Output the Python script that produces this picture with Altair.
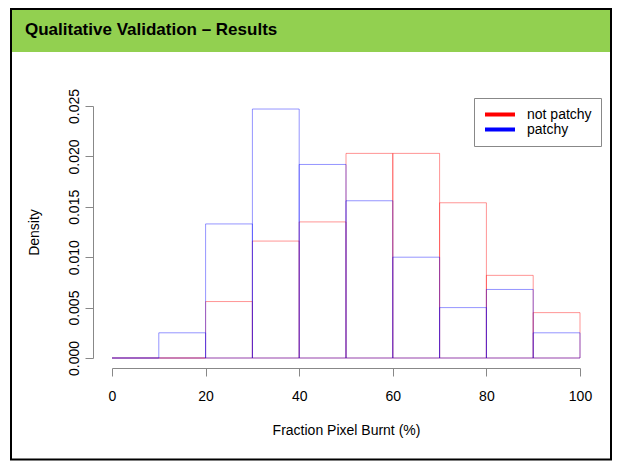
import altair as alt
import pandas as pd

# ---- data ----
bin_start = [0, 10, 20, 30, 40, 50, 60, 70, 80, 90]
bin_end = [10, 20, 30, 40, 50, 60, 70, 80, 90, 100]
not_patchy = [0.0, 0.0, 0.0056, 0.0116, 0.0135, 0.0203, 0.0203, 0.0154, 0.0082, 0.0045]
patchy = [0.0, 0.0025, 0.0133, 0.0247, 0.0192, 0.0156, 0.0100, 0.0050, 0.0068, 0.0025]
series_names = ["not patchy", "patchy"]
series_colors = ["#ff0000", "#0000ff"]
x_ticks = [0, 20, 40, 60, 80, 100]
y_ticks = [0.0, 0.005, 0.010, 0.015, 0.020, 0.025]
title_text = "Qualitative Validation \u2013 Results"
x_title = "Fraction Pixel Burnt (%)"
y_title = "Density"

rows = []
for name, vals in zip(series_names, [not_patchy, patchy]):
    for s, e, v in zip(bin_start, bin_end, vals):
        rows.append({"series": name, "start": s, "end": e, "density": v, "base": 0.0})
df = pd.DataFrame(rows)

FONT = "Liberation Sans"
W, H = 468, 252
PAD_L, PAD_T = 104, 98
TOTAL_W, TOTAL_H = 604, 453
PAD_R = TOTAL_W - PAD_L - W
PAD_B = TOTAL_H - PAD_T - H

hist = alt.Chart(df).mark_rect(fillOpacity=0, strokeWidth=1, strokeOpacity=0.42).encode(
    x=alt.X(
        "start:Q",
        scale=alt.Scale(domain=[0, 100], nice=False, zero=False),
        axis=alt.Axis(
            values=x_ticks, format="d", title=x_title, offset=10,
            domainColor="#888", tickColor="#888", tickSize=8,
            labelFontSize=14, labelFont=FONT, labelColor="black", labelPadding=13,
            labelFlush=False,
            titleFontSize=14, titleFont=FONT, titleFontWeight="normal", titleColor="black",
            titlePadding=20, grid=False,
        ),
    ),
    x2="end:Q",
    y=alt.Y(
        "density:Q",
        scale=alt.Scale(domain=[0, 0.025], nice=False),
        axis=alt.Axis(
            values=y_ticks, format=".3f", title=y_title, offset=19,
            domainColor="#888", tickColor="#888", tickSize=8,
            labelFontSize=14, labelFont=FONT, labelColor="black",
            labelAngle=270, labelAlign="center", labelBaseline="bottom", labelPadding=4,
            labelFlush=False, labelOverlap=False,
            titleFontSize=14, titleFont=FONT, titleFontWeight="normal", titleColor="black",
            titlePadding=26, grid=False,
        ),
    ),
    y2="base:Q",
    stroke=alt.Stroke(
        "series:N",
        scale=alt.Scale(domain=series_names, range=series_colors),
        legend=alt.Legend(
            title=None, orient="none", legendX=362, legendY=-8,
            symbolType="stroke", symbolSize=900, symbolStrokeWidth=4, symbolOpacity=1,
            labelFontSize=14, labelFont=FONT, labelColor="black", labelOffset=10,
            clipHeight=15, rowPadding=0,
            padding=9, strokeColor="#888", fillColor="white",
            labelLimit=0,
        ),
    ),
)

deco = pd.DataFrame({"k": [0]})
band = alt.Chart(deco).mark_rect(color="#92D050").encode(
    x=alt.value(4 - PAD_L), x2=alt.value(602 - PAD_L),
    y=alt.value(2 - PAD_T), y2=alt.value(44 - PAD_T),
)
border = alt.Chart(deco).mark_rect(fillOpacity=0, stroke="black", strokeWidth=2).encode(
    x=alt.value(3 - PAD_L), x2=alt.value(603 - PAD_L),
    y=alt.value(1 - PAD_T), y2=alt.value(451.5 - PAD_T),
)

chart = alt.layer(band, border, hist).properties(
    width=W, height=H,
    background="white",
    title=alt.TitleParams(
        text=title_text, anchor="start", frame="group", dx=17 - PAD_L,
        offset=-44, baseline="alphabetic",
        fontSize=17, font=FONT, fontWeight="bold", color="black",
    ),
    autosize=alt.AutoSizeParams(type="none"),
    padding={"left": PAD_L, "top": PAD_T, "right": PAD_R, "bottom": PAD_B},
).configure_view(stroke="transparent", strokeWidth=0)

chart.save("out.html", embed_options={"renderer": "svg", "actions": False})
